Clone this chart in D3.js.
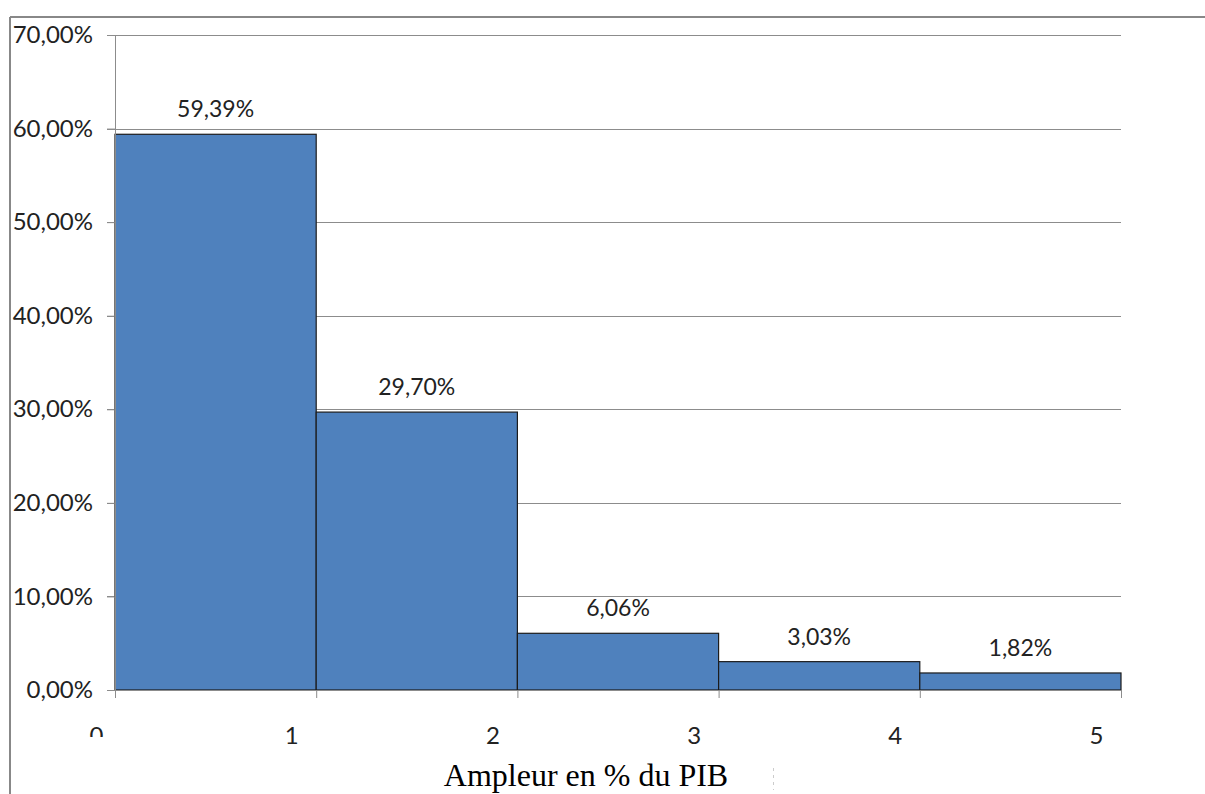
<!DOCTYPE html>
<html><head><meta charset="utf-8">
<script src="https://cdn.jsdelivr.net/npm/d3@7"></script>
<style>body{margin:0;background:#fff;}svg{display:block;}</style>
</head><body>
<svg id="c" width="1205" height="794"></svg>
<script>
const binStarts = [0, 1, 2, 3, 4];
const binEnds = [1, 2, 3, 4, 5];
const values = [59.39, 29.70, 6.06, 3.03, 1.82];
const valueLabels = ["59,39%", "29,70%", "6,06%", "3,03%", "1,82%"];
const yTicks = [0, 10, 20, 30, 40, 50, 60, 70];
const xTicks = [0, 1, 2, 3, 4, 5];
const xTitle = "Ampleur en % du PIB";

const svg = d3.select("#c");
const x = d3.scaleLinear().domain([0, 5]).range([115, 1121]);
const y = d3.scaleLinear().domain([0, 70]).range([690, 35]);
const fmtY = d => d3.format(".2f")(d).replace(".", ",") + "%";

// outer frame
svg.append("line").attr("x1", 10).attr("x2", 1205).attr("y1", 17).attr("y2", 17).attr("stroke", "#888").attr("stroke-width", 2);
svg.append("line").attr("x1", 10).attr("x2", 10).attr("y1", 17).attr("y2", 794).attr("stroke", "#888").attr("stroke-width", 2);

// gridlines
svg.append("g").selectAll("line").data(yTicks.filter(d => d > 0)).join("line")
  .attr("x1", 107).attr("x2", x(5)).attr("y1", d => Math.round(y(d)) + 0.5).attr("y2", d => Math.round(y(d)) + 0.5)
  .attr("stroke", "#8c8c8c").attr("stroke-width", 1);

// bars
svg.append("g").selectAll("rect").data(values).join("rect")
  .attr("x", (d, i) => x(binStarts[i]))
  .attr("width", (d, i) => x(binEnds[i]) - x(binStarts[i]))
  .attr("y", d => y(d))
  .attr("height", d => y(0) - y(d))
  .attr("fill", "#4F81BD").attr("stroke", "#1c1c1c").attr("stroke-width", 1.2);

// y axis
const yAxis = d3.axisLeft(y).tickValues(yTicks).tickSize(8).tickFormat(fmtY).tickPadding(14);
const gy = svg.append("g").attr("transform", "translate(115,0)").call(yAxis);
gy.select(".domain").attr("stroke", "#8c8c8c").attr("d", "M0.5,35V690");
gy.selectAll(".tick line").attr("stroke", "#8c8c8c");
gy.selectAll(".tick text").attr("font-family", "Lato, sans-serif").attr("font-size", 24).attr("fill", "#222").attr("x", -22);

// x axis
const xAxis = d3.axisBottom(x).tickValues(xTicks).tickSize(8).tickFormat(d => d);
const gx = svg.append("g").attr("transform", "translate(0,690)").call(xAxis);
gx.select(".domain").attr("stroke", "#8c8c8c").attr("d", "M115,0.5H1121");
gx.selectAll(".tick line").attr("stroke", "#8c8c8c");
gx.selectAll(".tick text").attr("font-family", "Lato, sans-serif").attr("font-size", 24).attr("fill", "#222")
  .attr("x", -25).attr("y", 54).attr("dy", 0);

// clip the "0" label as in the original
svg.append("defs").append("clipPath").attr("id", "zc").append("rect").attr("x", -200).attr("y", -100).attr("width", 400).attr("height", 147);
gx.selectAll(".tick").filter(d => d === 0).select("text").attr("clip-path", "url(#zc)").attr("x", -19);

// value labels
svg.append("g").selectAll("text").data(values).join("text")
  .attr("x", (d, i) => (x(binStarts[i]) + x(binEnds[i])) / 2)
  .attr("y", d => y(d) - 17)
  .attr("text-anchor", "middle")
  .attr("font-family", "Lato, sans-serif").attr("font-size", 23).attr("fill", "#222")
  .text((d, i) => valueLabels[i]);

// x title
svg.append("text").attr("x", 586).attr("y", 786).attr("text-anchor", "middle")
  .attr("font-family", "'Liberation Serif', 'Times New Roman', serif").attr("font-size", 32).attr("fill", "#000")
  .text(xTitle);
svg.append("line").attr("x1", 773.5).attr("x2", 773.5).attr("y1", 768).attr("y2", 790).attr("stroke", "#ccc").attr("stroke-dasharray", "3,4");
</script>
</body></html>
